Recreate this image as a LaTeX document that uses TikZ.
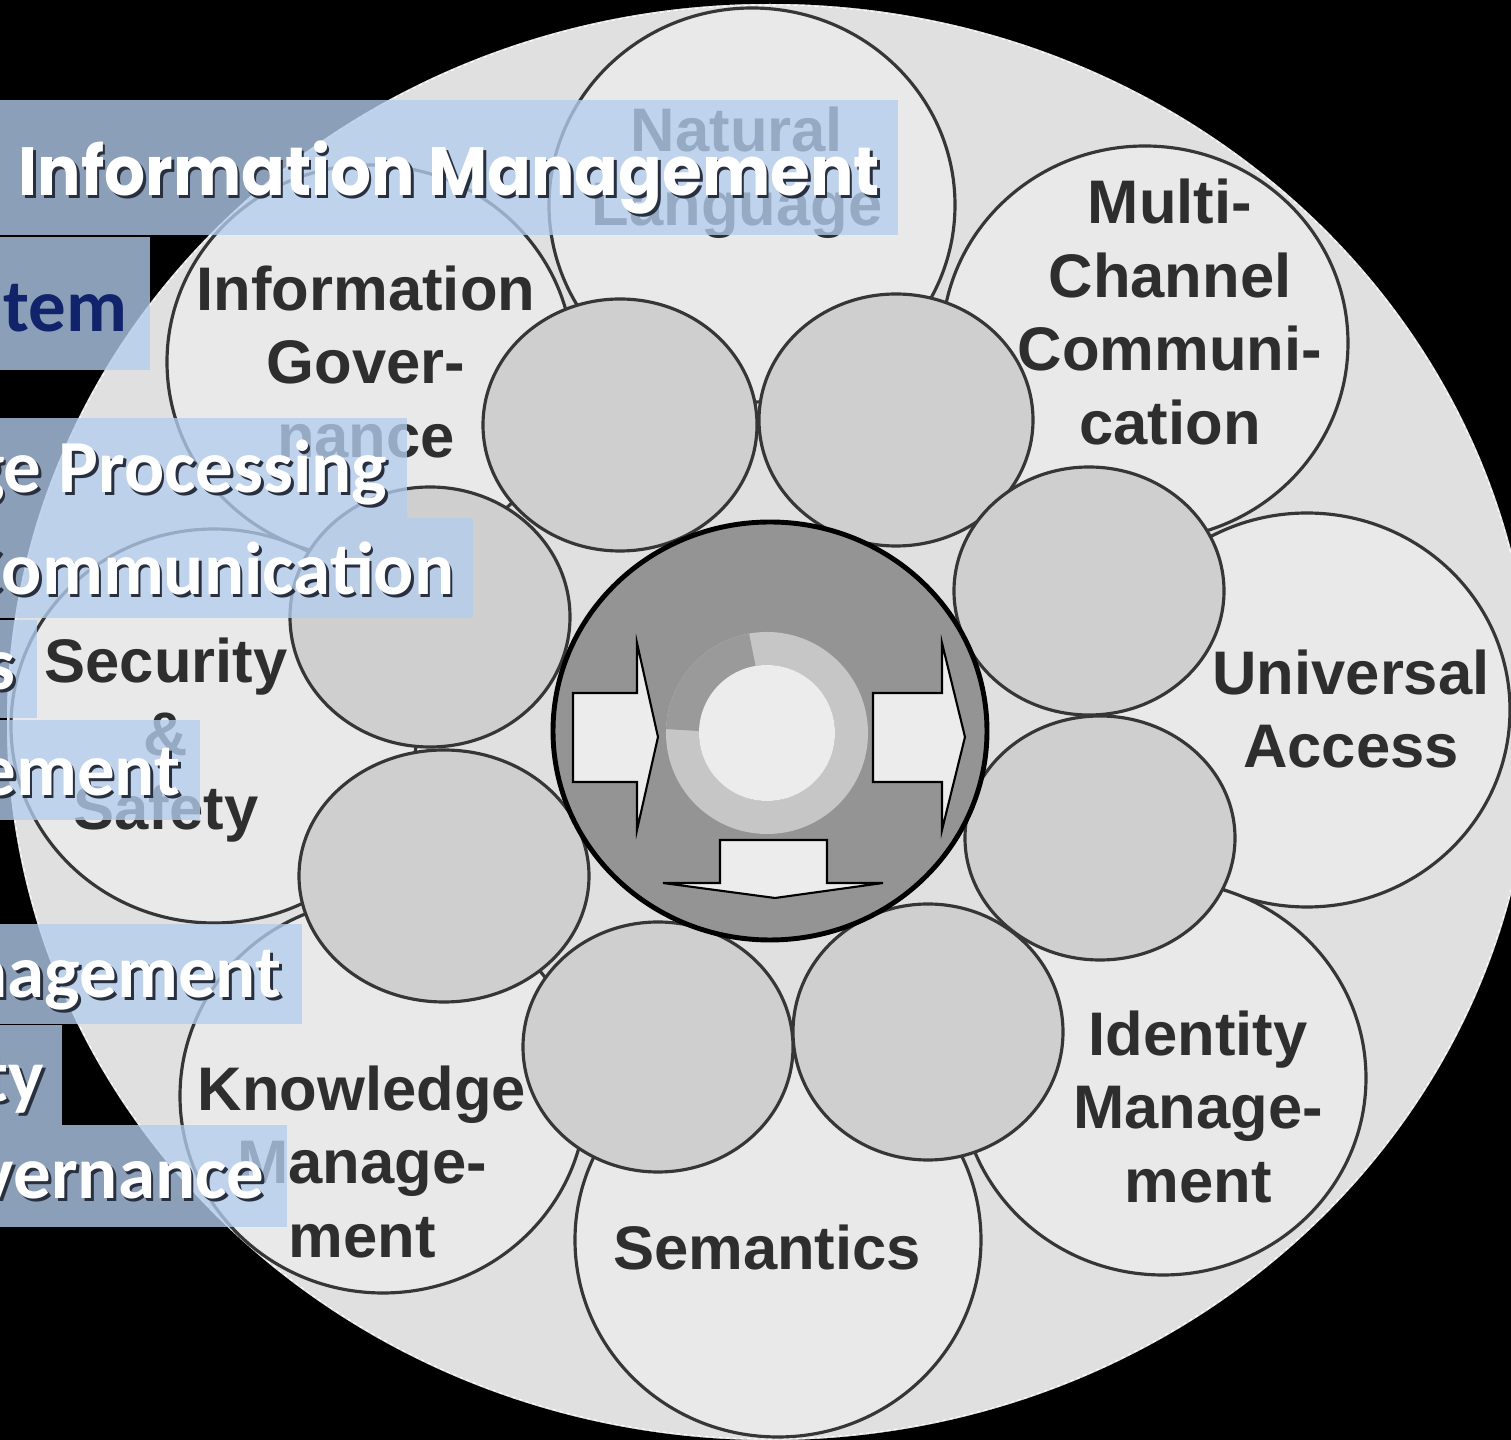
\documentclass[tikz,border=0pt]{standalone}
\usepackage{fontspec}
\newfontfamily\petalfont{Liberation Sans}
\newfontfamily\titlefont{Poppins}
\newfontfamily\slidefont{Carlito}
\definecolor{discgray}{HTML}{E0E0E0}
\definecolor{petalgray}{HTML}{E9E9E9}
\definecolor{innergray}{HTML}{CFCFCF}
\definecolor{hubgray}{HTML}{949494}
\definecolor{ringgray}{HTML}{C6C6C6}
\definecolor{ringdark}{HTML}{9A9A9A}
\definecolor{coregray}{HTML}{ECECEC}
\definecolor{edgegray}{HTML}{363636}
\definecolor{labelgray}{HTML}{2E2E2E}
\definecolor{bandblue}{RGB}{180,205,237}
\definecolor{navy}{HTML}{10236B}
\definecolor{shadowgray}{RGB}{40,48,64}
\newcommand{\shadowed}[1]{\rlap{\kern0.8pt\raisebox{-0.8pt}{\color{shadowgray}#1}}#1}
\tikzset{   petal/.style = {fill = petalgray, draw = edgegray, line width = 0.9pt},
            inner/.style = {fill = innergray, draw = edgegray, line width = 0.9pt},
            arrowbox/.style = {fill = coregray, draw = black, line width = 0.6pt},
            label/.style = {text = labelgray, align = center, inner sep = 0pt, font = \petalfont\bfseries\fontsize{17.5}{21}\selectfont},
            band/.style = {fill = bandblue, fill opacity = 0.78},
            slide/.style = {anchor = base east, inner sep = 0pt, text = white, font = \slidefont\bfseries\fontsize{21.3}{25}\selectfont}}

\begin{document}
\begin{tikzpicture}[x = 0.01cm, y = -0.01cm]
                        \fill[black] (0,0) rectangle (1511,1440);
                        \useasboundingbox (0,0) rectangle (1511,1440);
                        \begin{scope}
                        \fill[discgray] (770,722) circle [x radius = 765, y radius = 720];
                        \draw[black, line width = 1pt] (770,722) circle [x radius = 765, y radius = 720];
                        \draw[white, line width = 0.3pt, dash pattern = on 1pt off 1pt] (770,722) circle [x radius = 762, y radius = 717];
                        \draw[petal] (752,205) circle [x radius = 203, y radius = 197];
                        \draw[petal] (1145,343) circle [x radius = 203, y radius = 197];
                        \draw[petal] (1307,710) circle [x radius = 203, y radius = 197];
                        \draw[petal] (1163,1078) circle [x radius = 203, y radius = 197];
                        \draw[petal] (778,1240) circle [x radius = 203, y radius = 197];
                        \draw[petal] (383,1096) circle [x radius = 203, y radius = 197];
                        \draw[petal] (214,726) circle [x radius = 203, y radius = 197];
                        \draw[petal] (370,362) circle [x radius = 203, y radius = 197];
                        \end{scope}
                        \begin{scope}
                        \draw[inner] (620,425) circle [x radius = 137, y radius = 126];
                        \draw[inner] (896,420) circle [x radius = 137, y radius = 126];
                        \draw[inner] (1089,591) circle [x radius = 135, y radius = 124];
                        \draw[inner] (1100,838) circle [x radius = 135, y radius = 122];
                        \draw[inner] (928,1032) circle [x radius = 135, y radius = 128];
                        \draw[inner] (658,1047) circle [x radius = 135, y radius = 125];
                        \draw[inner] (444,876) circle [x radius = 145, y radius = 126];
                        \draw[inner] (430,617) circle [x radius = 140, y radius = 130];
                        \end{scope}
                        \begin{scope}
                        \draw[fill = hubgray, draw = black, line width = 1.4pt] (770,731) circle [x radius = 217, y radius = 209];
                        \draw[ringgray, line width = 0.33cm] (767,733) circle [radius = 84.5];
                        \draw[ringdark, line width = 0.33cm] (767,733) ++(-100:84.5) arc [start angle = -100, end angle = -178, radius = 84.5];
                        \fill[coregray] (767,733) circle [radius = 68];
                        \draw[arrowbox] (573,693) -- (637,693) -- (637,643) -- (658,737) -- (637,830) -- (637,782) -- (573,782) -- cycle;
                        \draw[arrowbox] (873,693) -- (942,693) -- (942,643) -- (965,737) -- (942,830) -- (942,782) -- (873,782) -- cycle;
                        \draw[arrowbox] (720,840) -- (827,840) -- (827,883) -- (883,883) -- (775,898) -- (663,883) -- (720,883) -- cycle;
                        \end{scope}
                        \node[label] (natural) at (737,173) {Natural\\Language};
                        \node[label] (multichannel) at (1170,312) {Multi-\\Channel\\Communi-\\cation};
                        \node[label] (universal) at (1351,709) {Universal\\Access};
                        \node[label] (identity) at (1198,1107) {Identity\\Manage-\\ment};
                        \node[label] (semantics) at (767,1248) {Semantics};
                        \node[label] (knowledge) at (362,1162) {Knowledge\\Manage-\\ment};
                        \node[label] (security) at (166,740) {Security\\\&\\Safety};
                        \node[label] (governance) at (366,362) {Information\\Gover-\\nance};
                        \fill[band] (0,100) rectangle (898,235);
                        \node[anchor = base west, inner sep = 0pt, text = white, font = \titlefont\bfseries\fontsize{19.4}{23}\selectfont] (title) at (18,196) {\scalebox{0.945}[1]{\shadowed{Information Management}}};
                        \fill[band] (0,237) rectangle (150,370);
                        \node[slide, text = navy] (slidetem) at (128,332) {tem};
                        \fill[band] (0,418) rectangle (407,518);
                        \node[slide] (slideprocessing) at (388,493) {\shadowed{ge Processing}};
                        \fill[band] (0,518) rectangle (473,618);
                        \node[slide] (slidecommunication) at (455,595) {\shadowed{Communication}};
                        \fill[band] (0,620) rectangle (37,718);
                        \node[slide] (slides) at (16,690) {\shadowed{s}};
                        \fill[band] (0,720) rectangle (200,820);
                        \node[slide] (slideement) at (181,796) {\shadowed{ement}};
                        \fill[band] (0,924) rectangle (302,1024);
                        \node[slide] (slidenagement) at (282,998) {\shadowed{nagement}};
                        \fill[band] (0,1025) rectangle (62,1125);
                        \node[slide] (slidety) at (45,1102) {\shadowed{ty}};
                        \fill[band] (0,1125) rectangle (287,1227);
                        \node[slide] (slidevernance) at (265,1199) {\shadowed{vernance}};
                      \end{tikzpicture}
\end{document}
